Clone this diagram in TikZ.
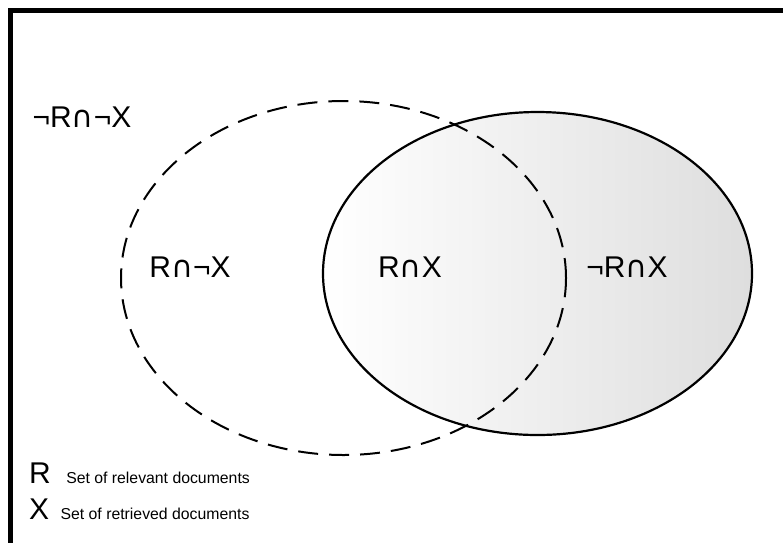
\documentclass[tikz,border=0pt]{standalone}
\usepackage{fontspec}
\setmainfont{Liberation Sans}
\newfontfamily\symfont{DejaVu Sans}
\newcommand{\intersym}{{\symfont ∩}}
\usepackage{xcolor}
\usepackage{tikz}
\usetikzlibrary{shapes.geometric, positioning, calc}

\begin{document}
\begin{tikzpicture}[
    x=1pt, y=-1pt,
    setshape/.style={ellipse, draw, inner sep=0pt, line width=2.2pt},
    setlabel/.style={inner sep=0pt, anchor=base, font=\fontsize{30}{31}\selectfont},
    legsym/.style={inner sep=0pt, anchor=base west, font=\fontsize{30}{31}\selectfont},
    legtext/.style={inner sep=0pt, anchor=base west, font=\fontsize{15.8}{17}\selectfont}
]
\useasboundingbox (0,0) rectangle (783,542);

% Frame
\draw[line width=5pt] (10,560) -- (10,10) -- (800,10);

% Sets
\node[setshape, minimum width=429pt, minimum height=323pt,
      left color=white, right color=black!13] (retrieved) at (537.5,273.5) {};
\node[setshape, line width=2pt, dash pattern=on 20pt off 11pt,
      minimum width=445pt, minimum height=354pt] (relevant) at (343.5,278) {};

% Labels
\node[setlabel] (outside) at (82,127) {¬R\intersym¬X};
\node[setlabel] (relonly) at (190,277) {R\intersym¬X};
\node[setlabel] (both) at (410,277) {R\intersym X};
\node[setlabel] (retonly) at (627,277) {¬R\intersym X};

% Legend
\node[legsym] (symr) at (29,483) {R};
\node[legtext] (textr) at ($(symr.base east)+(15,0)$) {Set of relevant documents};
\node[legsym] (symx) at (29,519) {X};
\node[legtext] (textx) at ($(symx.base east)+(11,0)$) {Set of retrieved documents};

\end{tikzpicture}
\end{document}
